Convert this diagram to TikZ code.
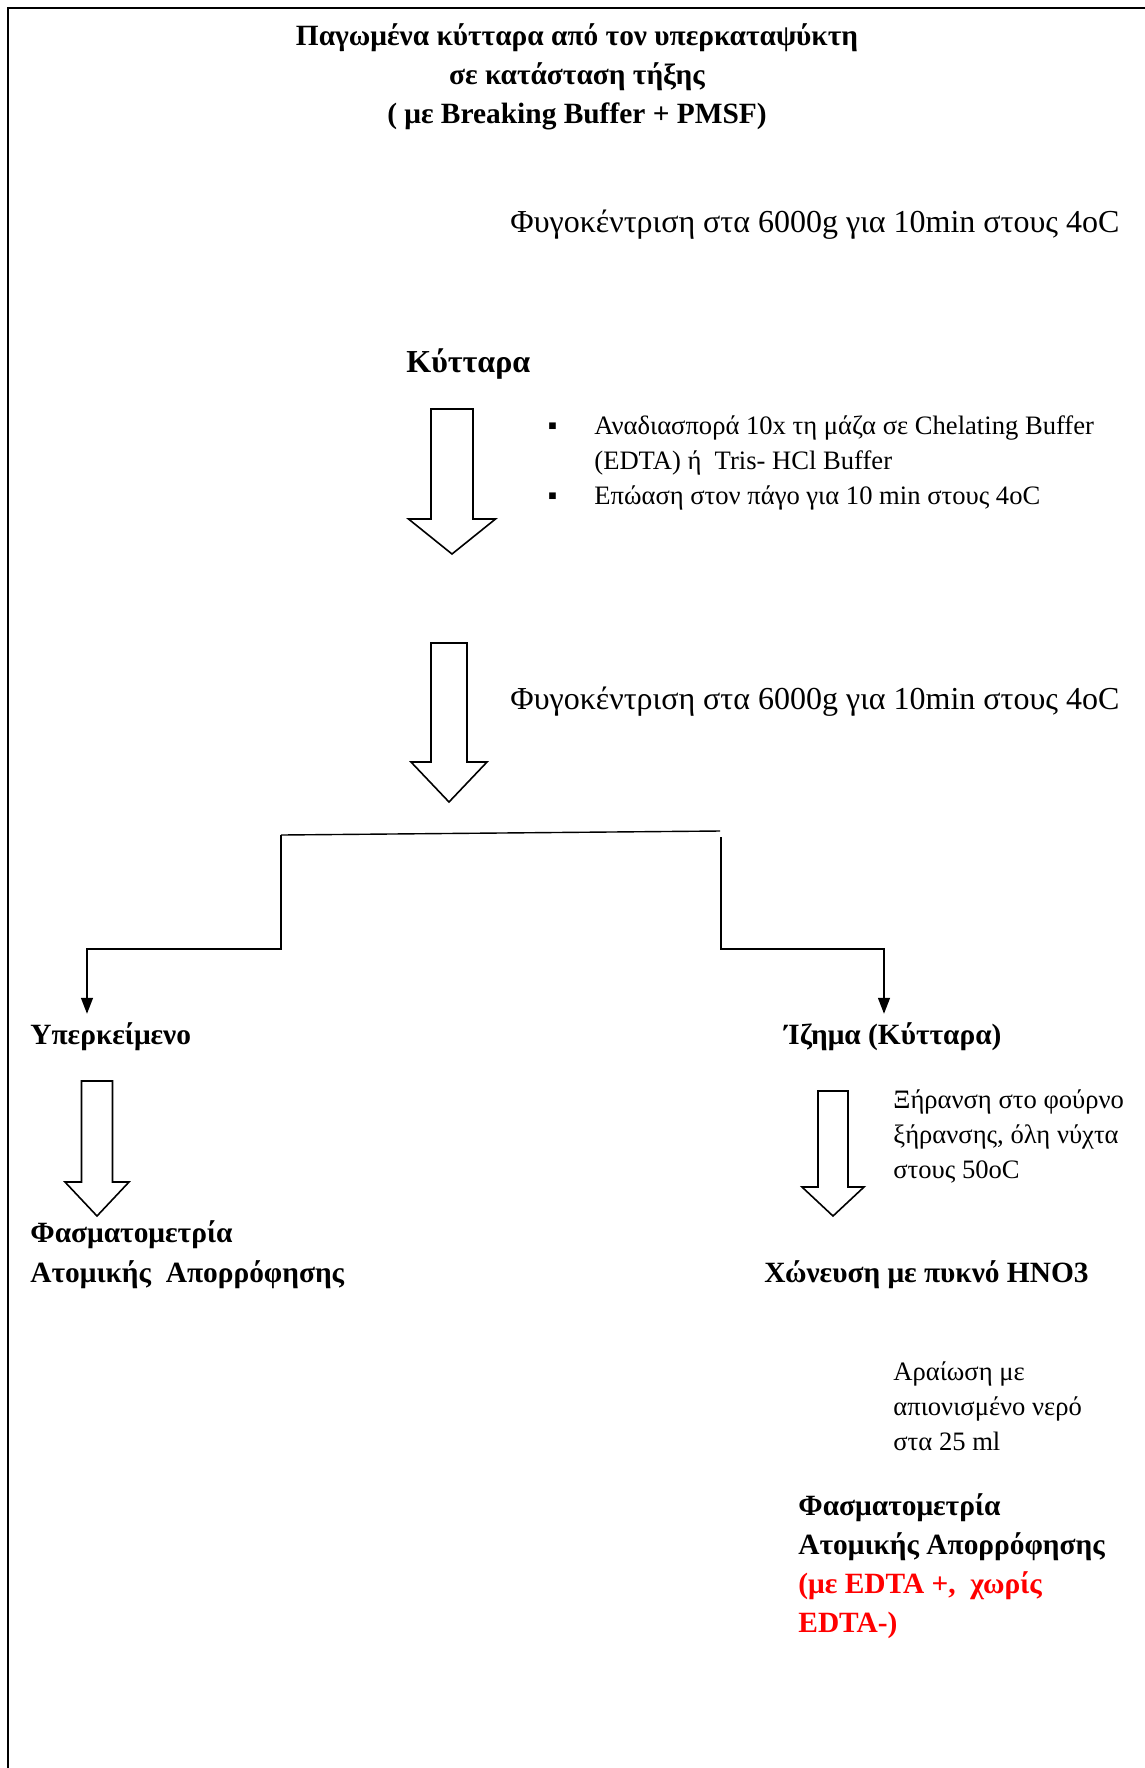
\documentclass[tikz,border=0pt]{standalone}
\usepackage{fontspec}
\setmainfont{Liberation Serif}
\usetikzlibrary{arrows.meta,positioning,calc}

% hollow block arrow pointing down: x, shaft half width, top, head base, head half width, tip
\newcommand{\hollowdown}[6]{%
  \draw[blockarrow] ({#1-#2},#3) -- ({#1+#2},#3) -- ({#1+#2},#4) -- ({#1+#5},#4)
    -- (#1,#6) -- ({#1-#5},#4) -- ({#1-#2},#4) -- cycle;}

\begin{document}
\begin{tikzpicture}[x=0.5pt,y=-0.5pt,
    lbl/.style={inner sep=0pt,anchor=base west,align=left},
    boldlbl/.style={lbl,font=\fontsize{14.7}{19.5}\selectfont\bfseries},
    smalllbl/.style={lbl,font=\fontsize{13.3}{17.5}\selectfont},
    spinlbl/.style={lbl,font=\fontsize{16}{20}\selectfont},
    blockarrow/.style={line width=0.8pt,fill=white},
    thinline/.style={line width=0.7pt},
    thinarrow/.style={thinline,-{Triangle[length=8pt,width=6pt]},shorten >=4pt}]
  \useasboundingbox (0,0) rectangle (1145,1768);
  % page frame
  \draw[line width=1.2pt] (8,1768) -- (8,8) -- (1145,8);

  % title (base = last line)
  \node[boldlbl,anchor=base,align=center] (title) at (577,123)
    {Παγωμένα κύτταρα από τον υπερκαταψύκτη\\σε κατάσταση τήξης\\( με Breaking Buffer + PMSF)};

  % first spin and resuspension
  \node[spinlbl] (spin1) at (510,232) {Φυγοκέντριση στα 6000g για 10min στους 4oC};
  \node[lbl,font=\fontsize{16}{20}\selectfont\bfseries] (cells) at (406,372) {Κύτταρα};
  \node[smalllbl] (steps) at (547.5,434)
    {\begin{tabular}[t]{@{}l@{}l@{}}
      \makebox[23.25pt][l]{▪} & Αναδιασπορά 10x τη μάζα σε Chelating Buffer\\
       & (EDTA) ή\ \ Tris- HCl Buffer\\
      \makebox[23.25pt][l]{▪} & Επώαση στον πάγο για 10 min στους 4oC
     \end{tabular}};
  \hollowdown{452}{21}{409}{519}{43.5}{554}

  % second spin
  \hollowdown{449}{18}{643}{762}{38}{802}
  \node[spinlbl] (spin2) at (510,709) {Φυγοκέντριση στα 6000g για 10min στους 4oC};

  % split into two fractions
  \node[boldlbl] (super) at (30,1044) {Υπερκείμενο};
  \node[boldlbl] (pellet) at (784,1044) {Ίζημα (Κύτταρα)};
  \coordinate (splitL) at (281,835);
  \coordinate (splitR) at (720,831);
  \coordinate (dropR) at (721,837);
  \coordinate (legL) at (87,949);
  \coordinate (legR) at (884,949);
  \draw[thinline] (splitL) -- (splitR);
  \draw[thinarrow] (splitL) -- (splitL |- legL) -- (legL) -- (legL |- super.north);
  \draw[thinarrow] (dropR) -- (dropR |- legR) -- (legR) -- (legR |- pellet.north);

  % supernatant branch
  \hollowdown{97}{15.5}{1081}{1182}{32}{1216}
  \node[boldlbl,font=\fontsize{14.7}{20}\selectfont\bfseries] (aasL) at (30,1282)
    {Φασματομετρία\\Ατομικής\ \ Απορρόφησης};

  % pellet branch
  \hollowdown{833}{15}{1091}{1187}{31}{1216}
  \node[smalllbl] (dry) at (893,1178) {Ξήρανση στο φούρνο\\ξήρανσης, όλη νύχτα\\στους 50oC};
  \node[boldlbl] (digest) at (764,1282) {Χώνευση με πυκνό HNO3};
  \node[smalllbl] (dilute) at (893,1450) {Αραίωση με\\απιονισμένο νερό\\στα 25 ml};
  \node[boldlbl] (aasR) at (798,1632)
    {Φασματομετρία\\Ατομικής Απορρόφησης\\\textcolor{red}{(με EDTA +,\ \ χωρίς}\\\textcolor{red}{EDTA-)}};
\end{tikzpicture}
\end{document}
